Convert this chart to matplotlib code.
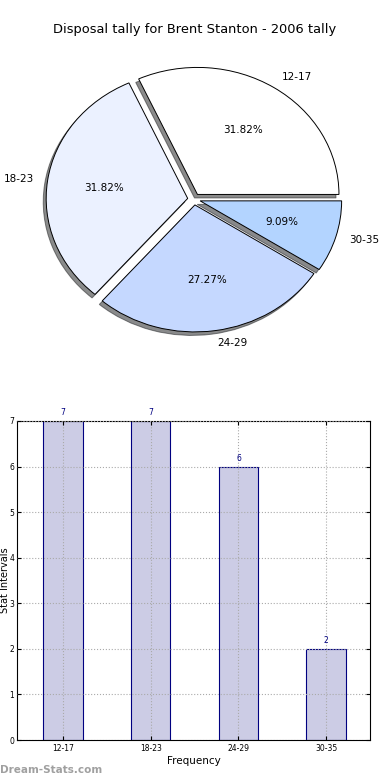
import matplotlib.pyplot as plt

# data
labels = ['12-17', '18-23', '24-29', '30-35']
counts = [7, 7, 6, 2]
explode = [0.045, 0.045, 0.045, 0.045]
colors = ['#ffffff', '#ebf1ff', '#c5d8ff', '#b3d4ff']

fig = plt.figure(figsize=(3.9, 7.8), dpi=100)

# pie chart (slightly squashed, like the original)
ax1 = fig.add_axes([35.5/390, 1-341.5/780, 317/390, 284.5/780])
ax1.pie(counts, explode=explode, labels=labels, colors=colors,
        autopct='%.2f%%', startangle=0,
        shadow={'ox': -0.015, 'oy': -0.02, 'shade': 0.9},
        wedgeprops={'linewidth': 0.7, 'edgecolor': 'black'},
        textprops={'fontsize': 7.5, 'color': 'black'})
ax1.set_aspect('auto')
ax1.set_xlim(-1.12, 1.12)
ax1.set_ylim(-1.12, 1.12)
fig.text(0.5, 1-30/780, 'Disposal tally for Brent Stanton - 2006 tally',
         ha='center', va='center', fontsize=9.4)

# bar chart
ax2 = fig.add_axes([17/390, 1-740/780, 353/390, 319/780])
x = range(len(labels))
ax2.bar(x, counts, width=0.45, color='#ccccE5', edgecolor='navy', linewidth=0.8, zorder=2)
for i, v in zip(x, counts):
    ax2.text(i, v + 0.08, str(v), ha='center', va='bottom', fontsize=5.5, color='navy')
ax2.set_xlim(-0.525, 3.5)
ax2.set_ylim(0, 7)
ax2.set_xticks(list(x))
ax2.set_xticklabels(labels)
ax2.set_yticks(range(8))
ax2.tick_params(labelsize=5.5, direction='in', top=True, right=True, length=3, pad=3)
ax2.tick_params(axis='y', pad=2)
ax2.grid(True, linestyle=':', color='#aaaaaa', linewidth=0.8, zorder=3)
ax2.set_axisbelow(False)
ax2.set_xlabel('Frequency', fontsize=7.5, labelpad=2)
ax2.set_ylabel('Stat Intervals', fontsize=7)
ax2.yaxis.set_label_coords(-0.021, 0.5)
fig.text(0.0, 1-770/780, 'Dream-Stats.com', ha='left', va='center',
         fontsize=7.5, color='#a0a0a0', fontweight='bold')

fig.savefig('out.png', dpi=100)
